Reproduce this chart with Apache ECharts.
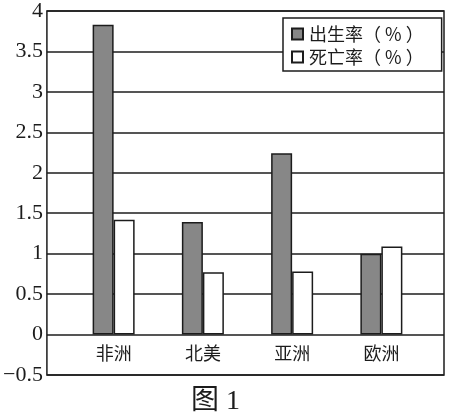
<!DOCTYPE html>
<html>
<head>
<meta charset="utf-8">
<script src="https://cdn.jsdelivr.net/npm/echarts@6/dist/echarts.min.js"></script>
<style>
  html, body { margin: 0; padding: 0; background: #fff; }
  #chart { width: 449px; height: 418px; }
</style>
</head>
<body>
<div id="chart"></div>
<script>
// 数据
var regions = ["非洲", "北美", "亚洲", "欧洲"];
var birthRate = [3.83, 1.39, 2.24, 1.0];
var deathRate = [1.42, 0.77, 0.78, 1.09];
var seriesNames = ["出生率（ % ）", "死亡率（ % ）"];
var yMin = -0.5, yMax = 4, yStep = 0.5;

var ink = "#1c1c1c";
var myChart = echarts.init(document.getElementById("chart"));

var option = {
    backgroundColor: "#fff",
    animation: false,
    title: {
        text: "图 1",
        left: 186,
        top: 383,
        textStyle: {
            fontFamily: "Liberation Serif, Noto Sans CJK SC",
            fontSize: 28,
            fontWeight: "normal",
            color: ink
        }
    },
    legend: {
        orient: "vertical",
        left: 283,
        top: 18,
        padding: [7, 18, 5, 8],
        itemGap: 5,
        itemWidth: 11,
        itemHeight: 11,
        icon: "rect",
        backgroundColor: "#fff",
        borderColor: ink,
        borderWidth: 1.5,
        data: seriesNames,
        textStyle: {
            fontFamily: "Noto Sans CJK SC",
            fontSize: 18,
            color: ink,
            padding: [0, 0, 0, 1]
        }
    },
    // 两个网格：外框 + 柱子
    grid: [
        { left: 45, top: 11, width: 399, height: 364, show: true, borderColor: ink, borderWidth: 1.5 },
        { left: 69, top: 11, width: 357, height: 364 }
    ],
    xAxis: [
        { type: "value", gridIndex: 0, show: false, min: 0, max: 1 },
        {
            type: "category",
            gridIndex: 1,
            data: regions,
            position: "bottom",
            offset: -40,
            axisLine: { show: false, onZero: false },
            axisTick: { show: false },
            axisLabel: {
                margin: 9,
                fontFamily: "Noto Sans CJK SC",
                fontSize: 18,
                color: ink
            }
        }
    ],
    yAxis: [
        {
            type: "value",
            gridIndex: 0,
            min: yMin,
            max: yMax,
            interval: yStep,
            axisLine: { show: false },
            axisTick: { show: false },
            splitLine: { show: true, lineStyle: { color: ink, width: 1.5 } },
            axisLabel: {
                margin: 4,
                fontFamily: "Liberation Serif",
                fontSize: 22,
                color: ink,
                formatter: function (v) {
                    return String(v).replace("-", "\u2212");
                }
            }
        },
        { type: "value", gridIndex: 1, min: yMin, max: yMax, show: false }
    ],
    series: [
        {
            name: seriesNames[0],
            type: "bar",
            xAxisIndex: 1,
            yAxisIndex: 1,
            barWidth: 21,
            barGap: "0%",
            data: birthRate,
            itemStyle: { color: "#878787", borderColor: ink, borderWidth: 1.5 }
        },
        {
            name: seriesNames[1],
            type: "bar",
            xAxisIndex: 1,
            yAxisIndex: 1,
            barWidth: 21,
            data: deathRate,
            itemStyle: { color: "#fff", borderColor: ink, borderWidth: 1.5 }
        }
    ]
};
myChart.setOption(option);
</script>
</body>
</html>
